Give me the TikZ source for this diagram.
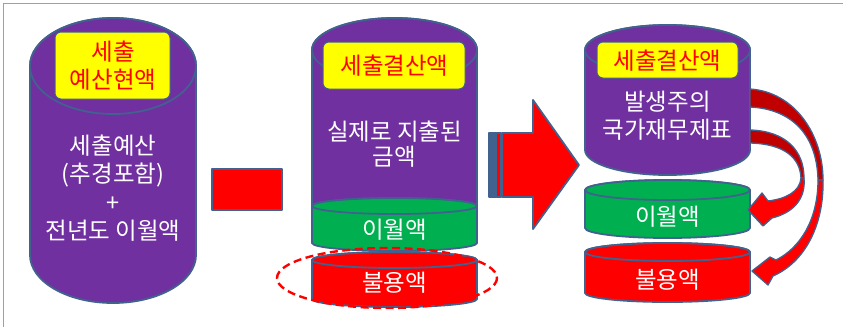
\documentclass[tikz,border=0pt]{standalone}
\usepackage{fontspec}
\newfontfamily\kr{Noto Sans CJK KR}
\definecolor{edgeblue}{HTML}{41618F}
\definecolor{purp}{HTML}{7030A0}
\definecolor{grn}{HTML}{00B050}
\definecolor{rd}{HTML}{FF0000}
\definecolor{drd}{HTML}{C00000}
\definecolor{yel}{HTML}{FFFF00}
\definecolor{framegray}{HTML}{A0A0A0}
\tikzset{
  outl/.style={draw=edgeblue, line width=1.8pt, line join=round},
  thinoutl/.style={draw=edgeblue, line width=1.3pt, line join=round},
  ybox/.style={draw=edgeblue, line width=1pt, fill=yel, rounded corners=6pt},
  ytext/.style={text=rd, font=\kr\fontsize{23.5}{28}\selectfont, align=center, inner sep=0pt},
  wtext/.style={text=white, font=\kr\fontsize{23.5}{28}\selectfont, align=center, inner sep=0pt}
}
\newcommand{\mycyl}[6]{%
  \draw[outl, fill=#6] ({#1-#4},{#2}) -- ({#1-#4},{#3})
    arc[start angle=180, end angle=0, x radius=#4, y radius=#5]
    -- ({#1+#4},{#2})
    arc[start angle=0, end angle=-180, x radius=#4, y radius=#5] -- cycle;
  \draw[outl, fill=#6] (#1,#2) ellipse[x radius=#4, y radius=#5];
}
\begin{document}
\begin{tikzpicture}[x=1pt,y=-1pt]
\useasboundingbox (0,0) rectangle (843,327);
\fill[white] (0,0) rectangle (843,327);
% frame
\draw[framegray, line width=1pt] (3,327) -- (3,3) -- (843,3);

% ---- cylinder 1
\mycyl{113}{66}{255}{83}{48}{purp}
\draw[ybox] (55,32) rectangle (170,99);
\node[ytext] (y1) at (113,66) {세출\\예산현액};
\node[wtext, font=\kr\fontsize{23.5}{28.5}\selectfont] (w1) at (113,188) {세출예산\\(추경포함)\\+\\전년도 이월액};

% ---- minus
\draw[outl, fill=rd] (212,169) rectangle (282,210);

% ---- cylinder 2
\mycyl{394.5}{50}{206}{82.5}{32}{purp}
\mycyl{394.5}{206}{243}{82.5}{8}{grn}
\mycyl{394.5}{260}{299}{82.5}{8}{rd}
\draw[ybox] (323,42) rectangle (465,89);
\node[ytext] (y2) at (394.5,66) {세출결산액};
\node[wtext, font=\kr\fontsize{23.5}{25}\selectfont] (w2) at (394.5,144) {실제로 지출된\\금액};
\node[wtext] (g2) at (394.5,230) {이월액};
\node[wtext] (r2) at (394.5,283) {불용액};
\draw[rd, line width=2.4pt, dash pattern=on 8pt off 4.5pt] (387,278) ellipse[x radius=110, y radius=30];

% ---- striped arrow
\draw[outl, fill=rd] (502,133) -- (533,133) -- (533,100) -- (579,165) -- (533,229) -- (533,197) -- (502,197) -- cycle;
\draw[thinoutl, fill=rd] (489,133) rectangle (501,197);
\fill[edgeblue] (488,133) rectangle (497,197);

% ---- cylinder 3
\mycyl{667.5}{50}{150}{82.5}{25}{purp}
\mycyl{667.5}{190}{228}{82.5}{10}{grn}
\mycyl{667.5}{252}{293}{82.5}{9}{rd}
\draw[ybox] (597,42) rectangle (738,78);
\node[ytext] (y3) at (667.5,61) {세출결산액};
\node[wtext] (w3) at (667.5,116) {발생주의\\국가재무제표};
\node[wtext] (g3) at (667.5,217) {이월액};
\node[wtext] (r3) at (667.5,280) {불용액};

% ---- curved arrows
% outer (to 불용액)
\draw[thinoutl, fill=drd] (750,89) .. controls (795,92) and (823,135) .. (823,180)
  -- (818,180) .. controls (817,135) and (792,109) .. (750,107) -- cycle;
\draw[thinoutl, fill=rd] (823,180) .. controls (824,225) and (805,262) .. (773,276)
  -- (768,285) -- (752,271) -- (770,257) -- (776,260)
  .. controls (800,248) and (818,220) .. (818,180) -- cycle;
% inner (to 이월액)
\draw[thinoutl, fill=drd] (750,130) .. controls (785,131) and (804,150) .. (804,178)
  -- (801,178) .. controls (800,158) and (785,144) .. (750,143) -- cycle;
\draw[thinoutl, fill=rd] (804,178) .. controls (806,200) and (792,213) .. (772,218)
  -- (763,226) -- (748,210) -- (762,193) -- (768,201)
  .. controls (785,199) and (800,192) .. (801,178) -- cycle;
\end{tikzpicture}
\end{document}
